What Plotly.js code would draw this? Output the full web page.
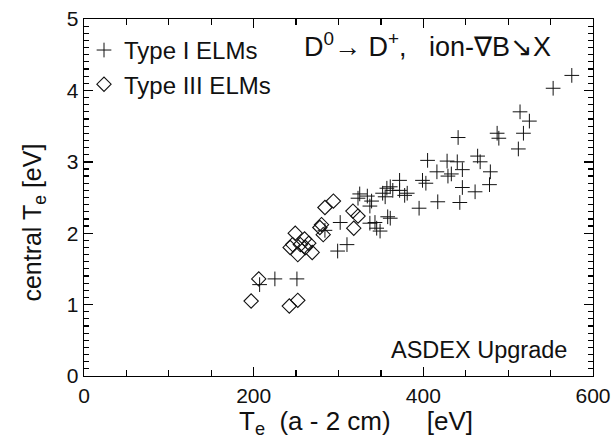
<!DOCTYPE html>
<html>
<head>
<meta charset="utf-8">
<script src="https://cdn.plot.ly/plotly-3.0.1.min.js"></script>
<style>html,body{margin:0;padding:0;background:#fff;}#chart{width:615px;height:439px;}</style>
</head>
<body>
<div id="chart"></div>
<script>
// Type I ELMs (crosses)
var typeI_x = [207, 225, 251, 284, 310, 302, 299, 323, 334, 339, 337, 343, 358, 337, 345, 355, 361, 364, 372, 372, 378, 381, 395, 399, 403, 405, 416, 417, 428, 429, 433, 440, 441, 443, 446, 446, 464, 467, 461, 479, 478, 487, 489, 512, 518, 525, 514, 553, 575, 349, 357, 361, 325, 352];
var typeI_y = [1.28, 1.36, 1.36, 2.04, 1.84, 2.15, 1.75, 2.49, 2.52, 2.45, 2.38, 2.15, 2.23, 2.14, 2.07, 2.51, 2.65, 2.60, 2.60, 2.74, 2.53, 2.56, 2.35, 2.74, 2.70, 3.02, 2.86, 2.44, 3.01, 2.80, 2.83, 3.00, 3.34, 2.43, 2.89, 2.64, 3.08, 3.00, 2.58, 2.86, 2.68, 3.40, 3.33, 3.18, 3.40, 3.57, 3.70, 4.03, 4.21, 2.03, 2.63, 2.21, 2.55, 2.56];
// Type III ELMs (diamonds)
var typeIII_x = [206, 197, 242, 252, 249, 255, 246, 261, 269, 252, 243, 284, 278, 294, 317, 323, 318, 280, 282, 260, 265];
var typeIII_y = [1.36, 1.05, 0.98, 1.06, 2.00, 1.84, 1.84, 1.80, 1.73, 1.70, 1.80, 2.36, 2.08, 2.45, 2.31, 2.24, 2.07, 2.12, 1.98, 1.92, 1.86];
// axis ranges and ticks
var xRange = [0, 600], xMajor = 200, xMinor = 50;
var yRange = [0, 5], yMajor = 1, yMinor = 0.1;

var FONT = 'Liberation Sans, Arial, Helvetica, sans-serif';
var INK = '#111111';

var traces = [
  {x: typeI_x, y: typeI_y, type: 'scatter', mode: 'markers', name: 'Type I ELMs',
   marker: {symbol: 'cross-thin', size: 10.5, color: INK, line: {color: INK, width: 1}}},
  {x: typeIII_x, y: typeIII_y, type: 'scatter', mode: 'markers', name: 'Type III ELMs',
   marker: {symbol: 'diamond-open', size: 11, color: INK, line: {color: INK, width: 1.1}}}
];

function ax(range, major, minor, len, mlen) {
  return {
    range: range, tickmode: 'linear', tick0: 0, dtick: major,
    ticks: 'inside', ticklen: len, tickwidth: 1.4, tickcolor: '#000',
    minor: {tickmode: 'linear', tick0: 0, dtick: minor, ticks: 'inside', ticklen: mlen, tickwidth: 1.2, tickcolor: '#000', showgrid: false},
    showline: true, linecolor: '#000', linewidth: 1.3, mirror: 'allticks',
    showgrid: false, zeroline: false, tickfont: {family: FONT, size: 21, color: INK}
  };
}

var layout = {
  width: 615, height: 439,
  margin: {l: 84, r: 22, t: 19, b: 63},
  paper_bgcolor: '#fff', plot_bgcolor: '#fff',
  font: {family: FONT, color: INK, size: 21},
  showlegend: true,
  legend: {x: 0.0, y: 0.975, xanchor: 'left', yanchor: 'top', bgcolor: 'rgba(0,0,0,0)',
           font: {family: FONT, size: 24, color: INK}, itemwidth: 30, tracegroupgap: 0},
  xaxis: ax(xRange, xMajor, xMinor, 9, 6),
  yaxis: ax(yRange, yMajor, yMinor, 9, 5),
  annotations: [
    {xref: 'x', yref: 'y', x: 257, y: 4.63, xanchor: 'left', yanchor: 'middle', showarrow: false,
     text: 'D<sup>0</sup>\u2192 D<sup>+</sup>,   ion-\u2207B\u2198X', font: {family: FONT, size: 27, color: INK}},
    {xref: 'x', yref: 'y', x: 572, y: 0.37, xanchor: 'right', yanchor: 'middle', showarrow: false,
     text: 'ASDEX Upgrade', font: {family: FONT, size: 23.5, color: INK}},
    {xref: 'paper', yref: 'paper', x: 0.534, y: -0.13, xanchor: 'center', yanchor: 'middle', showarrow: false,
     text: 'T<sub>e</sub>  (a - 2 cm)     [eV]', font: {family: FONT, size: 26, color: INK}},
    {xref: 'paper', yref: 'paper', x: -0.098, y: 0.43, xanchor: 'center', yanchor: 'middle', showarrow: false,
     textangle: -90, text: 'central T<sub>e</sub> [eV]', font: {family: FONT, size: 25, color: INK}}
  ]
};

Plotly.newPlot('chart', traces, layout, {staticPlot: true, displayModeBar: false});
</script>
</body>
</html>
